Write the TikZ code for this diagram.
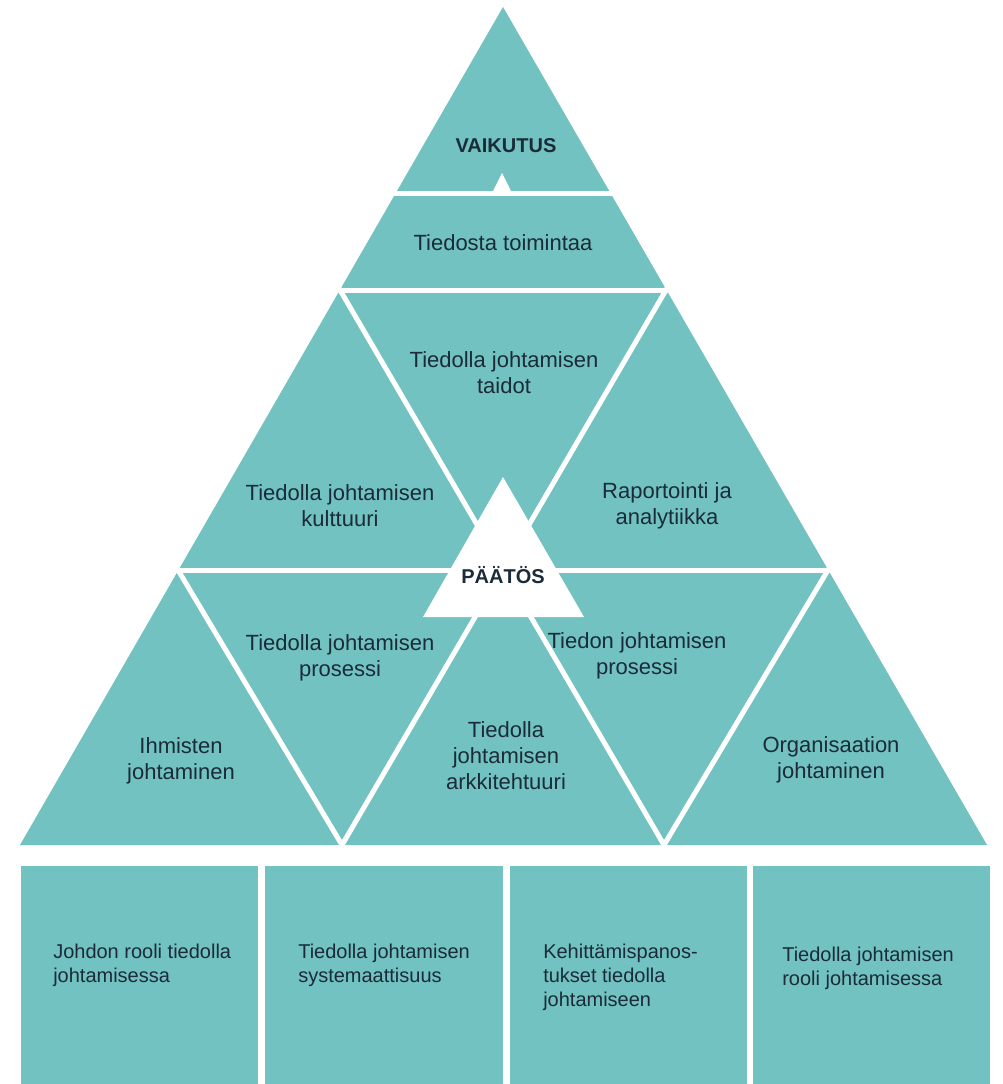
\documentclass[tikz,border=0pt]{standalone}
\usepackage{fontspec}
\setmainfont{Liberation Sans}
\usepackage{xcolor}
\usepackage{tikz}
\usetikzlibrary{positioning}

\definecolor{pyramid}{HTML}{71C2C0}
\definecolor{ink}{HTML}{1B2B3A}

\begin{document}
\begin{tikzpicture}[
    x=0.75pt, y=-0.75pt,
    part/.style={fill=pyramid},
    gap/.style={draw=white, line width=3.75pt, shorten <=-6pt, shorten >=-6pt},
    label/.style={text=ink, align=center, inner sep=0pt, font=\fontsize{16.5}{19.5}\selectfont},
    keyword/.style={text=ink, inner sep=0pt, font=\fontsize{15}{18}\selectfont\bfseries},
    boxlabel/.style={text=ink, align=left, inner sep=0pt, anchor=north west, font=\fontsize{15}{18}\selectfont}
]
    \useasboundingbox (0,0) rectangle (1002,1084);

    % Corner points of the pyramid
    \coordinate (top) at (503,7);
    \coordinate (l0) at (395,194);
    \coordinate (r0) at (611,194);
    \coordinate (l1) at (340,290);
    \coordinate (r1) at (666,290);
    \coordinate (l2) at (178,570);
    \coordinate (r2) at (828,570);
    \coordinate (l3) at (20,845);
    \coordinate (ml3) at (342,845);
    \coordinate (mr3) at (664,845);
    \coordinate (r3) at (987,845);

    % Pyramid
    \fill[part] (top) -- (l3) -- (r3) -- cycle;

    % White seams
    \draw[gap] (l0) -- (r0);
    \draw[gap] (l1) -- (r1);
    \draw[gap] (l2) -- (r2);
    \draw[gap] (l1) -- (mr3);
    \draw[gap] (r1) -- (ml3);
    \draw[gap] (l2) -- (ml3);
    \draw[gap] (r2) -- (mr3);

    % Notch and centre triangle
    \fill[white] (491,195) -- (502,173) -- (513,195) -- cycle;
    \fill[white] (503,477) -- (423,617) -- (584,617) -- cycle;

    % Foundation blocks
    \fill[part] (21,866) rectangle (258,1084);
    \fill[part] (265,866) rectangle (503,1084);
    \fill[part] (510,866) rectangle (747,1084);
    \fill[part] (753,866) rectangle (990,1084);

    % Top
    \node[keyword] (vaikutus) at (506,146) {VAIKUTUS};
    \node[label] (toiminta) at (503,243) {Tiedosta toimintaa};

    % Middle row
    \node[label] (taidot) at (504,373) {Tiedolla johtamisen\\taidot};
    \node[label] (kulttuuri) at (340,506) {Tiedolla johtamisen\\kulttuuri};
    \node[label] (raportointi) at (667,506) {Raportointi ja\\analytiikka};
    \node[keyword] (paatos) at (503,575) {PÄÄTÖS};

    % Bottom row
    \node[label] (ihmiset) at (181,761) {Ihmisten\\johtaminen};
    \node[label] (prosessi) at (340,658) {Tiedolla johtamisen\\prosessi};
    \node[label] (arkkitehtuuri) at (506,756) {Tiedolla\\johtamisen\\arkkitehtuuri};
    \node[label] (tietoprosessi) at (637,656) {Tiedon johtamisen\\prosessi};
    \node[label] (organisaatio) at (831,760) {Organisaation\\johtaminen};

    % Foundation texts
    \node[boxlabel] (johdon) at (53,944) {Johdon rooli tiedolla\\johtamisessa};
    \node[boxlabel] (systemaattisuus) at (298,944) {Tiedolla johtamisen\\systemaattisuus};
    \node[boxlabel] (panostukset) at (543,944) {Kehittämispanos-\\tukset tiedolla\\johtamiseen};
    \node[boxlabel] (rooli) at (782,947) {Tiedolla johtamisen\\rooli johtamisessa};
\end{tikzpicture}
\end{document}
